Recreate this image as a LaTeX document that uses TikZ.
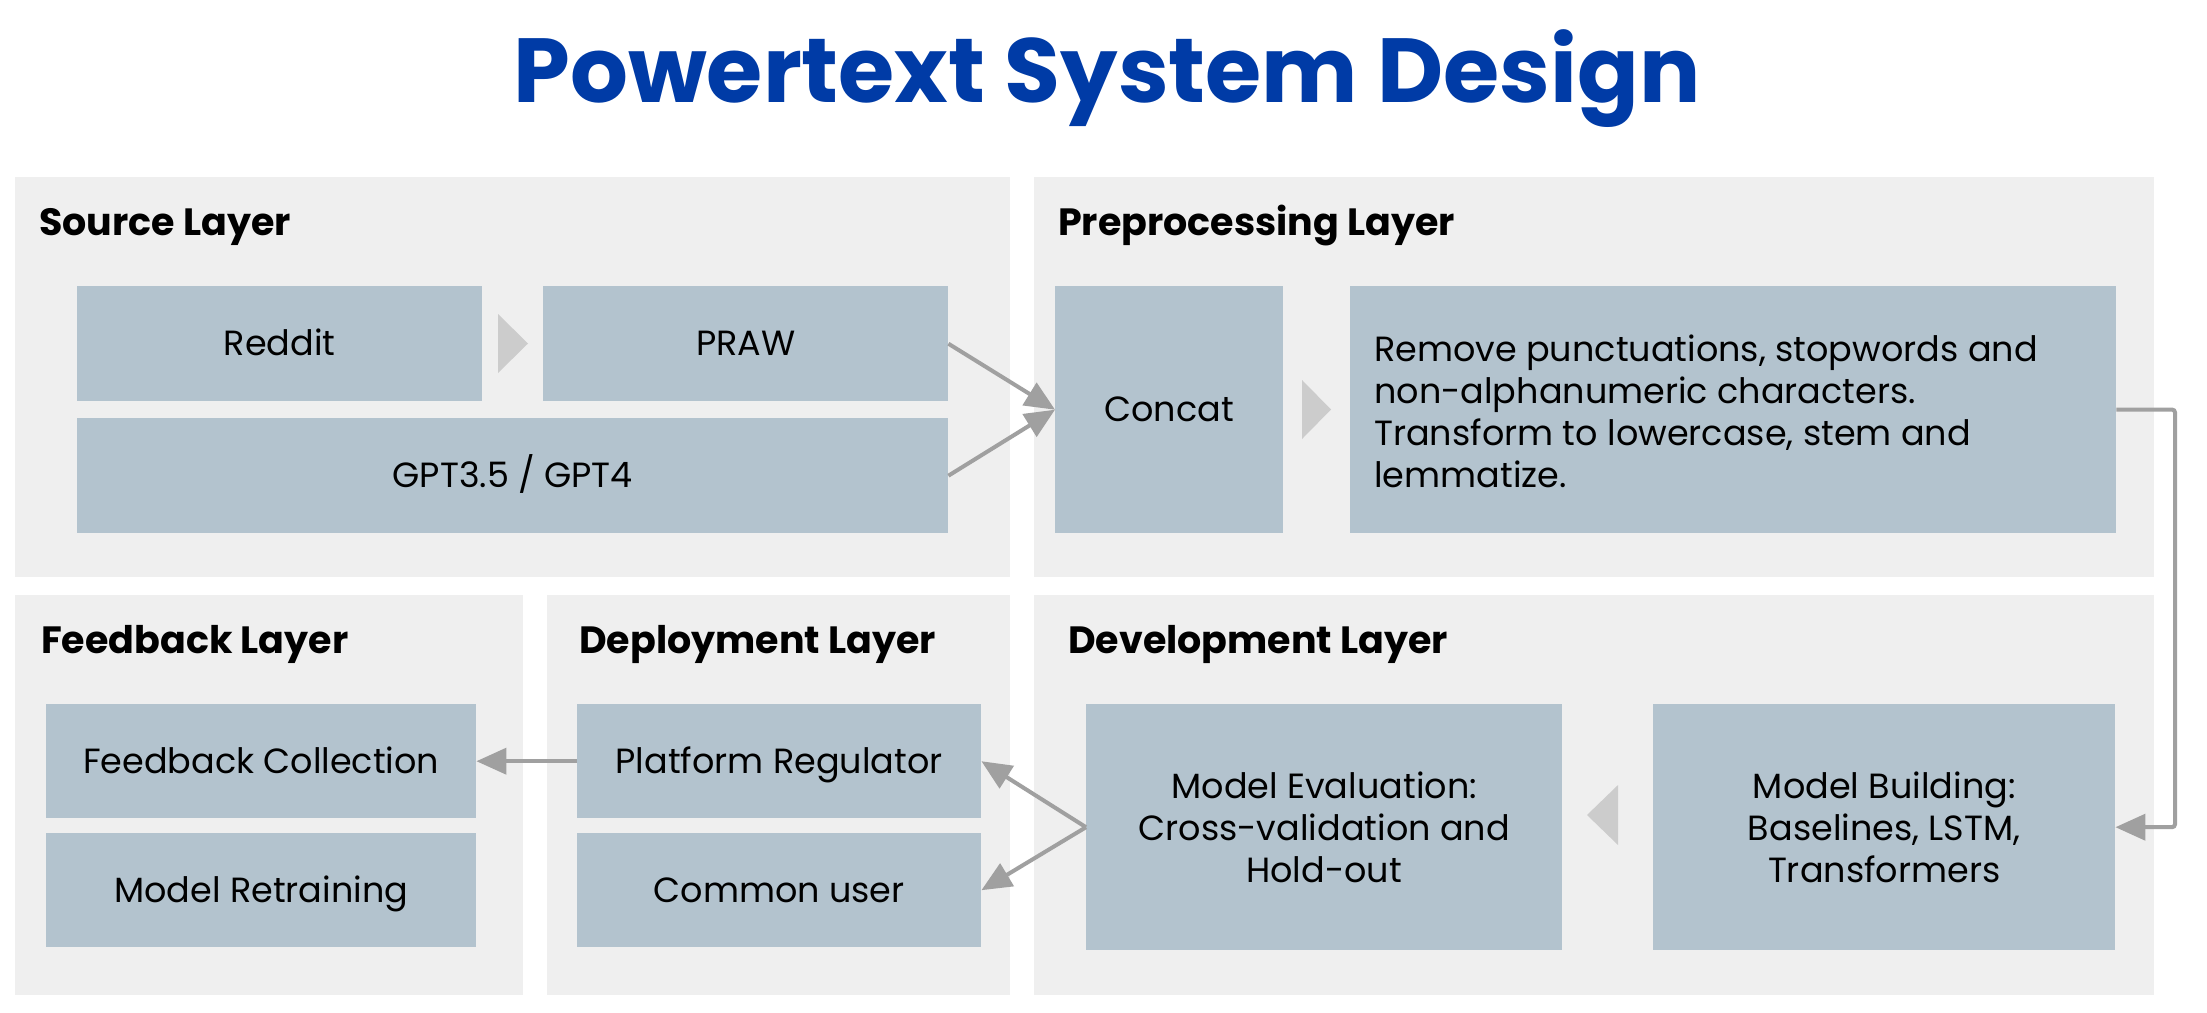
\documentclass[tikz,border=0pt]{standalone}
\usepackage{fontspec}
\setmainfont{Poppins}
\usetikzlibrary{arrows.meta}
\definecolor{panelc}{HTML}{EFEFEF}
\definecolor{boxc}{HTML}{B3C3CE}
\definecolor{chevc}{HTML}{CCCCCC}
\definecolor{arrc}{HTML}{A0A0A0}
\definecolor{titlec}{HTML}{003BA6}
\tikzset{
  panel/.style={fill=panelc, draw=none, anchor=north west, inner sep=0pt},
  box/.style={fill=boxc, draw=none, anchor=north west, inner sep=0pt, font=\fontsize{35}{42}\selectfont, align=center},
  oneline/.style={box, text height=24.5pt, text depth=0pt},
  layertitle/.style={anchor=base west, inner sep=0pt, font=\fontsize{38}{42}\selectfont\bfseries},
  arr/.style={draw=arrc, line width=4pt, -{Triangle[length=30pt,width=26pt]}},
  chev/.style={fill=chevc, draw=none}
}
\begin{document}
\begin{tikzpicture}[x=1pt,y=-1pt]
\useasboundingbox (0,0) rectangle (2207,1012);
\fill[white] (0,0) rectangle (2207,1012);
% title
\node[anchor=base, inner sep=0pt, text=titlec, font=\fontsize{91}{100}\selectfont\bfseries] (title) at (1107,102) {Powertext System Design};
% panels
\node[panel, minimum width=995pt, minimum height=400pt] (psrc) at (15,177) {};
\node[panel, minimum width=1120pt, minimum height=400pt] (ppre) at (1034,177) {};
\node[panel, minimum width=508pt, minimum height=400pt] (pfb) at (15,595) {};
\node[panel, minimum width=463pt, minimum height=400pt] (pdep) at (547,595) {};
\node[panel, minimum width=1120pt, minimum height=400pt] (pdev) at (1034,595) {};
% layer titles
\node[layertitle] (tsrc) at (39,235) {Source Layer};
\node[layertitle] (tpre) at (1058,235) {Preprocessing Layer};
\node[layertitle] (tfb) at (41,653) {Feedback Layer};
\node[layertitle] (tdep) at (579,653) {Deployment Layer};
\node[layertitle] (tdev) at (1068,653) {Development Layer};
% source boxes
\node[oneline, minimum width=405pt, minimum height=115pt] (reddit) at (77,286) {Reddit};
\node[oneline, minimum width=405pt, minimum height=115pt] (praw) at (543,286) {PRAW};
\node[oneline, minimum width=871pt, minimum height=115pt] (gpt) at (77,418) {GPT3.5 / GPT4};
% preprocessing boxes
\node[oneline, minimum width=228pt, minimum height=247pt] (concat) at (1055,286) {Concat};
\node[box, minimum width=766pt, minimum height=247pt] (prep) at (1350,286) {};
\node[anchor=west, inner sep=0pt, align=left, font=\fontsize{35}{42}\selectfont] (preptext) at (1374,411) {Remove punctuations, stopwords and\\non-alphanumeric characters.\\Transform to lowercase, stem and\\lemmatize.};
% feedback boxes
\node[oneline, minimum width=430pt, minimum height=114pt] (fcol) at (46,704) {Feedback Collection};
\node[oneline, minimum width=430pt, minimum height=114pt] (mret) at (46,833) {Model Retraining};
% deployment boxes
\node[oneline, minimum width=404pt, minimum height=114pt] (plat) at (577,704) {Platform Regulator};
\node[oneline, minimum width=404pt, minimum height=114pt] (common) at (577,833) {Common user};
% development boxes
\node[box, minimum width=476pt, minimum height=246pt] (meval) at (1086,704) {Model Evaluation:\\Cross-validation and\\Hold-out};
\node[box, minimum width=462pt, minimum height=246pt] (mbuild) at (1653,704) {Model Building:\\Baselines, LSTM,\\Transformers};
% chevrons
\fill[chev] (498,314) -- (528,343.5) -- (498,373) -- cycle;
\fill[chev] (1302,380) -- (1331,409.5) -- (1302,439) -- cycle;
\fill[chev] (1618,785) -- (1587,815) -- (1618,845) -- cycle;
% connectors
\draw[arr] (praw.east) -- (concat.west);
\draw[arr] (gpt.east) -- (concat.west);
\draw[arr] (plat.west) -- (fcol.east);
\draw[arr] (meval.west) -- (plat.east);
\draw[arr] (meval.west) -- (common.east);
\coordinate (rtop) at (2175,409.5);
\draw[arr, rounded corners=3pt] (prep.east) -- (rtop) |- (mbuild.east);
\end{tikzpicture}
\end{document}
